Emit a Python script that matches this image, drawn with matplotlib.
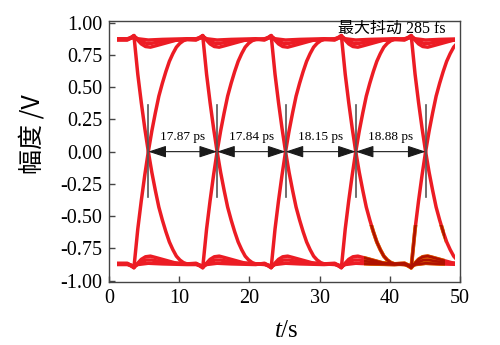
import numpy as np
import matplotlib
matplotlib.use("Agg")
import matplotlib.pyplot as plt
from matplotlib.patches import Rectangle
from matplotlib.ticker import FormatStrFormatter, MultipleLocator

plt.rcParams['mathtext.fontset'] = 'custom'
plt.rcParams['mathtext.it'] = 'Liberation Serif:italic'
plt.rcParams['mathtext.rm'] = 'Liberation Serif'

# crossing points of the eye (x axis units) and the labels between them
crossings = [5.6, 15.4, 25.15, 35.15, 45.1]
interval_labels = ["17.87 ps", "17.84 ps", "18.15 ps", "18.88 ps"]
jitter_label = "最大抖动 285 fs"

# rising edge around a crossing (dt from crossing, volts)
rise_dt = [-3.0, -2.4, -2.05, -1.5, -1.0, -0.5, 0.0, 0.5, 1.0, 1.5, 2.0, 2.5, 3.0, 3.5, 4.0, 4.5, 5.0, 5.5]
rise_v = [-0.87, -0.88, -0.90, -0.60, -0.38, -0.18, 0.0, 0.16, 0.30, 0.43, 0.53, 0.62, 0.70, 0.76, 0.81, 0.84, 0.86, 0.87]

# high level held through a crossing (overshoot bump + dip), three traces
hold_a_dt = [-3.0, -2.5, -2.05, -1.6, -1.0, -0.4, 0.3, 1.0, 2.0, 3.0, 4.0, 5.5]
hold_a_v = [0.87, 0.885, 0.90, 0.87, 0.835, 0.815, 0.81, 0.82, 0.835, 0.85, 0.865, 0.87]
hold_b_dt = [-3.0, -2.5, -2.05, -1.6, -1.0, -0.3, 0.5, 1.5, 3.0, 5.5]
hold_b_v = [0.865, 0.88, 0.895, 0.875, 0.855, 0.84, 0.84, 0.85, 0.86, 0.87]
hold_c_dt = [-3.0, -2.05, -1.5, 0.0, 2.0, 5.5]
hold_c_v = [0.875, 0.89, 0.875, 0.865, 0.87, 0.875]

shapes = {
    "rise": (rise_dt, rise_v),
    "fall": (rise_dt, [-v for v in rise_v]),
    "hi_a": (hold_a_dt, hold_a_v),
    "lo_a": (hold_a_dt, [-v for v in hold_a_v]),
    "hi_b": (hold_b_dt, hold_b_v),
    "lo_b": (hold_b_dt, [-v for v in hold_b_v]),
    "hi_c": (hold_c_dt, hold_c_v),
    "lo_c": (hold_c_dt, [-v for v in hold_c_v]),
}

# what each trace does at each crossing
traces = [
    ["fall", "rise", "fall", "rise", "fall"],
    ["rise", "fall", "rise", "fall", "rise"],
    ["hi_a", "hi_b", "hi_a", "hi_c", "hi_a"],
    ["lo_a", "lo_b", "lo_a", "lo_c", "lo_a"],
    ["hi_b", "hi_a", "hi_c", "hi_a", "hi_b"],
    ["lo_b", "lo_a", "lo_c", "lo_a", "lo_b"],
    ["hi_c", "hi_c", "hi_b", "hi_b", "hi_c"],
    ["lo_c", "lo_c", "lo_b", "lo_b", "lo_c"],
]

fig = plt.figure(figsize=(5, 3.45), dpi=100)
ax = fig.add_axes([0.218, 0.1835, 0.702, 0.7565])

red = "#ec1c24"
span = Rectangle((1.1, -1.2), 48.2, 2.4, transform=ax.transData)
# discoloured patch in the last eye of the original
patch = Rectangle((36.3, -1.2), 11.5, 0.63, transform=ax.transData)

for tr in traces:
    t, v = [0.0], [shapes[tr[0]][1][0]]
    for c, name in zip(crossings, tr):
        dts, vs = shapes[name]
        t += [c + d for d in dts]
        v += list(vs)
    t.append(51.0)
    v.append(v[-1])
    ln, = ax.plot(t, v, color=red, lw=2.5, solid_joinstyle="round", zorder=2)
    ln.set_clip_path(span)
    ln2, = ax.plot(t, v, color="#e06a00", lw=2.7, zorder=2.1)
    ln2.set_clip_path(patch)
    ln3, = ax.plot(t, v, color="#b01200", lw=1.9, zorder=2.2)
    ln3.set_clip_path(patch)

for c in crossings:
    ax.plot([c, c], [-0.35, 0.36], color="#555555", lw=1.2, zorder=3)

for i in range(len(interval_labels)):
    ax.annotate("", xy=(crossings[i], 0), xytext=(crossings[i + 1], 0),
                arrowprops=dict(arrowstyle="<|-|>,head_length=0.85,head_width=0.28",
                                color="#1a1a1a", lw=0.8, mutation_scale=13,
                                shrinkA=0, shrinkB=0), zorder=4)
    ax.text((crossings[i] + crossings[i + 1]) / 2, 0.07, interval_labels[i],
            ha="center", va="bottom", fontsize=9.5, family="Liberation Serif")

ax.text(47.9, 0.955, jitter_label, ha="right", va="center", fontsize=11.5,
        family=["Liberation Serif", "Noto Sans CJK SC"])

ax.set_xlim(0, 50)
ax.set_ylim(-1.008, 1.015)
ax.xaxis.set_major_locator(MultipleLocator(10))
ax.yaxis.set_major_locator(MultipleLocator(0.25))
ax.yaxis.set_major_formatter(FormatStrFormatter("%.2f"))
ax.tick_params(direction="in", length=4, width=1, color="#444444", pad=5, labelsize=14.5)
for lab in ax.get_xticklabels() + ax.get_yticklabels():
    lab.set_family("Liberation Serif")
for s in ax.spines.values():
    s.set_color("#444444")
    s.set_linewidth(1)

ax.set_ylabel("幅度 /V", family="Noto Sans CJK SC", fontsize=18)
ax.yaxis.set_label_coords(-0.182, 0.566)
ax.set_xlabel("$t$/s", family="Liberation Serif", fontsize=18)
ax.xaxis.set_label_coords(0.505, -0.145)

fig.savefig("out.png", dpi=100)
